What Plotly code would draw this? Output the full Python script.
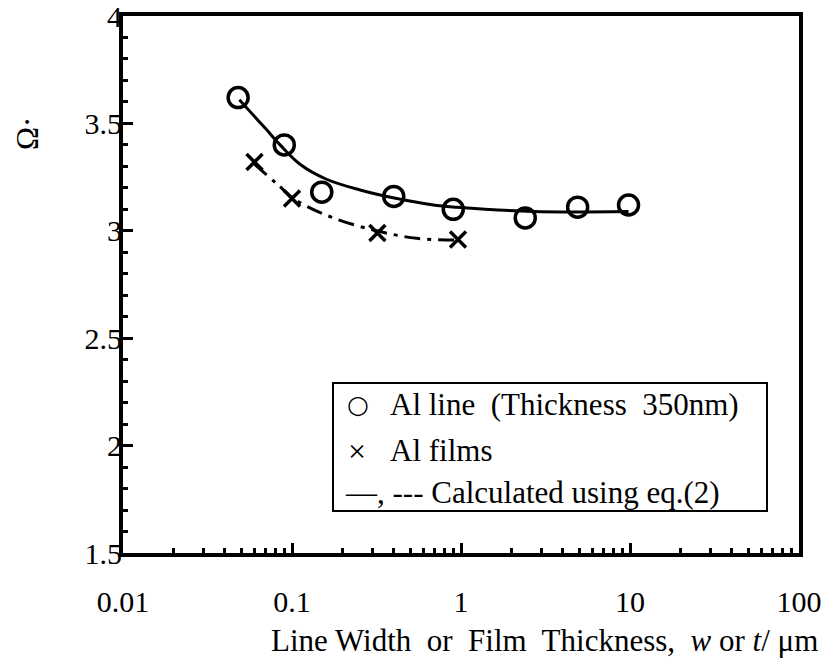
import plotly.graph_objects as go

# Data
circle_x = [0.048, 0.09, 0.15, 0.4, 0.9, 2.4, 4.9, 9.8]
circle_y = [3.62, 3.40, 3.18, 3.16, 3.10, 3.06, 3.11, 3.12]
cross_x = [0.06, 0.1, 0.32, 0.96]
cross_y = [3.32, 3.15, 2.99, 2.96]
solid_x = [0.0488, 0.0708, 0.085, 0.1115, 0.16, 0.253, 0.417, 0.686, 0.944, 2.68, 9.8]
solid_y = [3.61, 3.47, 3.40, 3.31, 3.24, 3.19, 3.15, 3.12, 3.11, 3.09, 3.09]
dash_x = [0.06, 0.081, 0.107, 0.1755, 0.317, 0.547, 0.964]
dash_y = [3.31, 3.22, 3.14, 3.06, 3.00, 2.965, 2.957]

x_tickvals = [0.01, 0.1, 1, 10, 100]
x_ticktext = ["0.01", "0.1", "1", "10", "100"]
y_tickvals = [1.5, 2, 2.5, 3, 3.5, 4]
y_ticktext = ["1.5", "2", "2.5", "3", "3.5", "4"]

legend_labels = ["Al line  (Thickness  350nm)", "Al films", "—, --- Calculated using eq.(2)"]
x_title = "Line Width  or  Film  Thickness,  <i>w</i> or <i>t</i>/ μm"
y_title = "Ω·"

FONT = "'Times New Roman', 'Liberation Serif', 'DejaVu Serif', serif"

fig = go.Figure()
fig.add_trace(go.Scatter(x=solid_x, y=solid_y, mode="lines",
                         line=dict(color="black", width=3, shape="spline"),
                         showlegend=False))
fig.add_trace(go.Scatter(x=dash_x, y=dash_y, mode="lines",
                         line=dict(color="black", width=3, shape="spline",
                                   dash="16px,7px,4px,7px"),
                         showlegend=False))
fig.add_trace(go.Scatter(x=circle_x, y=circle_y, mode="markers",
                         marker=dict(symbol="circle-open", size=20, color="black",
                                     line=dict(width=3.5, color="black")),
                         showlegend=False))
fig.add_trace(go.Scatter(x=cross_x, y=cross_y, mode="markers",
                         marker=dict(symbol="x-thin-open", size=16, color="black",
                                     line=dict(width=3.5, color="black")),
                         showlegend=False))

# Legend box drawn manually
L, R, T, B = 123, 799, 16, 553
W, H = R - L, B - T
def px(x):
    return (x - L) / W
def py(y):
    return (B - y) / H

fig.add_shape(type="rect", xref="paper", yref="paper",
              x0=px(333), x1=px(767), y0=py(511), y1=py(383),
              line=dict(color="black", width=2), fillcolor="white")

fig.add_annotation(xref="paper", yref="paper", x=px(358), y=py(404), text="○",
                   showarrow=False, font=dict(family="DejaVu Sans", size=25, color="black"),
                   xanchor="center", yanchor="middle")
fig.add_annotation(xref="paper", yref="paper", x=px(357), y=py(451), text="×",
                   showarrow=False, font=dict(family=FONT, size=32, color="black"),
                   xanchor="center", yanchor="middle")
rows_y = [404, 450, 492]
rows_x = [388, 388, 343]
for lbl, yy, xx in zip(legend_labels, rows_y, rows_x):
    fig.add_annotation(xref="paper", yref="paper", x=px(xx), y=py(yy), text=lbl,
                       showarrow=False, font=dict(family=FONT, size=31, color="black"),
                       xanchor="left", yanchor="middle")

# axis titles
fig.add_annotation(xref="paper", yref="paper", x=px(820), y=py(640), text=x_title,
                   showarrow=False, font=dict(family=FONT, size=31, color="black"),
                   xanchor="right", yanchor="middle")
fig.add_annotation(xref="paper", yref="paper", x=px(27), y=py(134), text=y_title,
                   showarrow=False, textangle=-90,
                   font=dict(family=FONT, size=31, color="black"),
                   xanchor="center", yanchor="middle")

fig.update_xaxes(type="log", range=[-2, 2], tickvals=x_tickvals, ticktext=x_ticktext,
                 ticks="inside", ticklen=10, tickwidth=3, tickcolor="black",
                 showline=True, linewidth=4, linecolor="black", mirror=True,
                 showgrid=False, zeroline=False, ticklabelstandoff=19,
                 ticklabeloverflow="allow",
                 tickfont=dict(family=FONT, size=30, color="black"),
                 minor=dict(ticks="inside", ticklen=5, tickwidth=3, tickcolor="black",
                            dtick="D1", showgrid=False))
fig.update_yaxes(range=[1.5, 4], tickvals=y_tickvals, ticktext=y_ticktext,
                 ticks="inside", ticklen=10, tickwidth=3, tickcolor="black",
                 showline=True, linewidth=4, linecolor="black", mirror=True,
                 showgrid=False, zeroline=False, ticklabelstandoff=-9,
                 ticklabeloverflow="allow",
                 tickfont=dict(family=FONT, size=30, color="black"),
                 minor=dict(ticks="inside", ticklen=5, tickwidth=3, tickcolor="black",
                            dtick=0.1, showgrid=False))

fig.update_layout(width=828, height=658,
                  margin=dict(l=L, r=828 - R, t=T, b=658 - B, autoexpand=False),
                  paper_bgcolor="white", plot_bgcolor="white",
                  font=dict(family=FONT, color="black"),
                  showlegend=False)

fig.write_html("out.html")
